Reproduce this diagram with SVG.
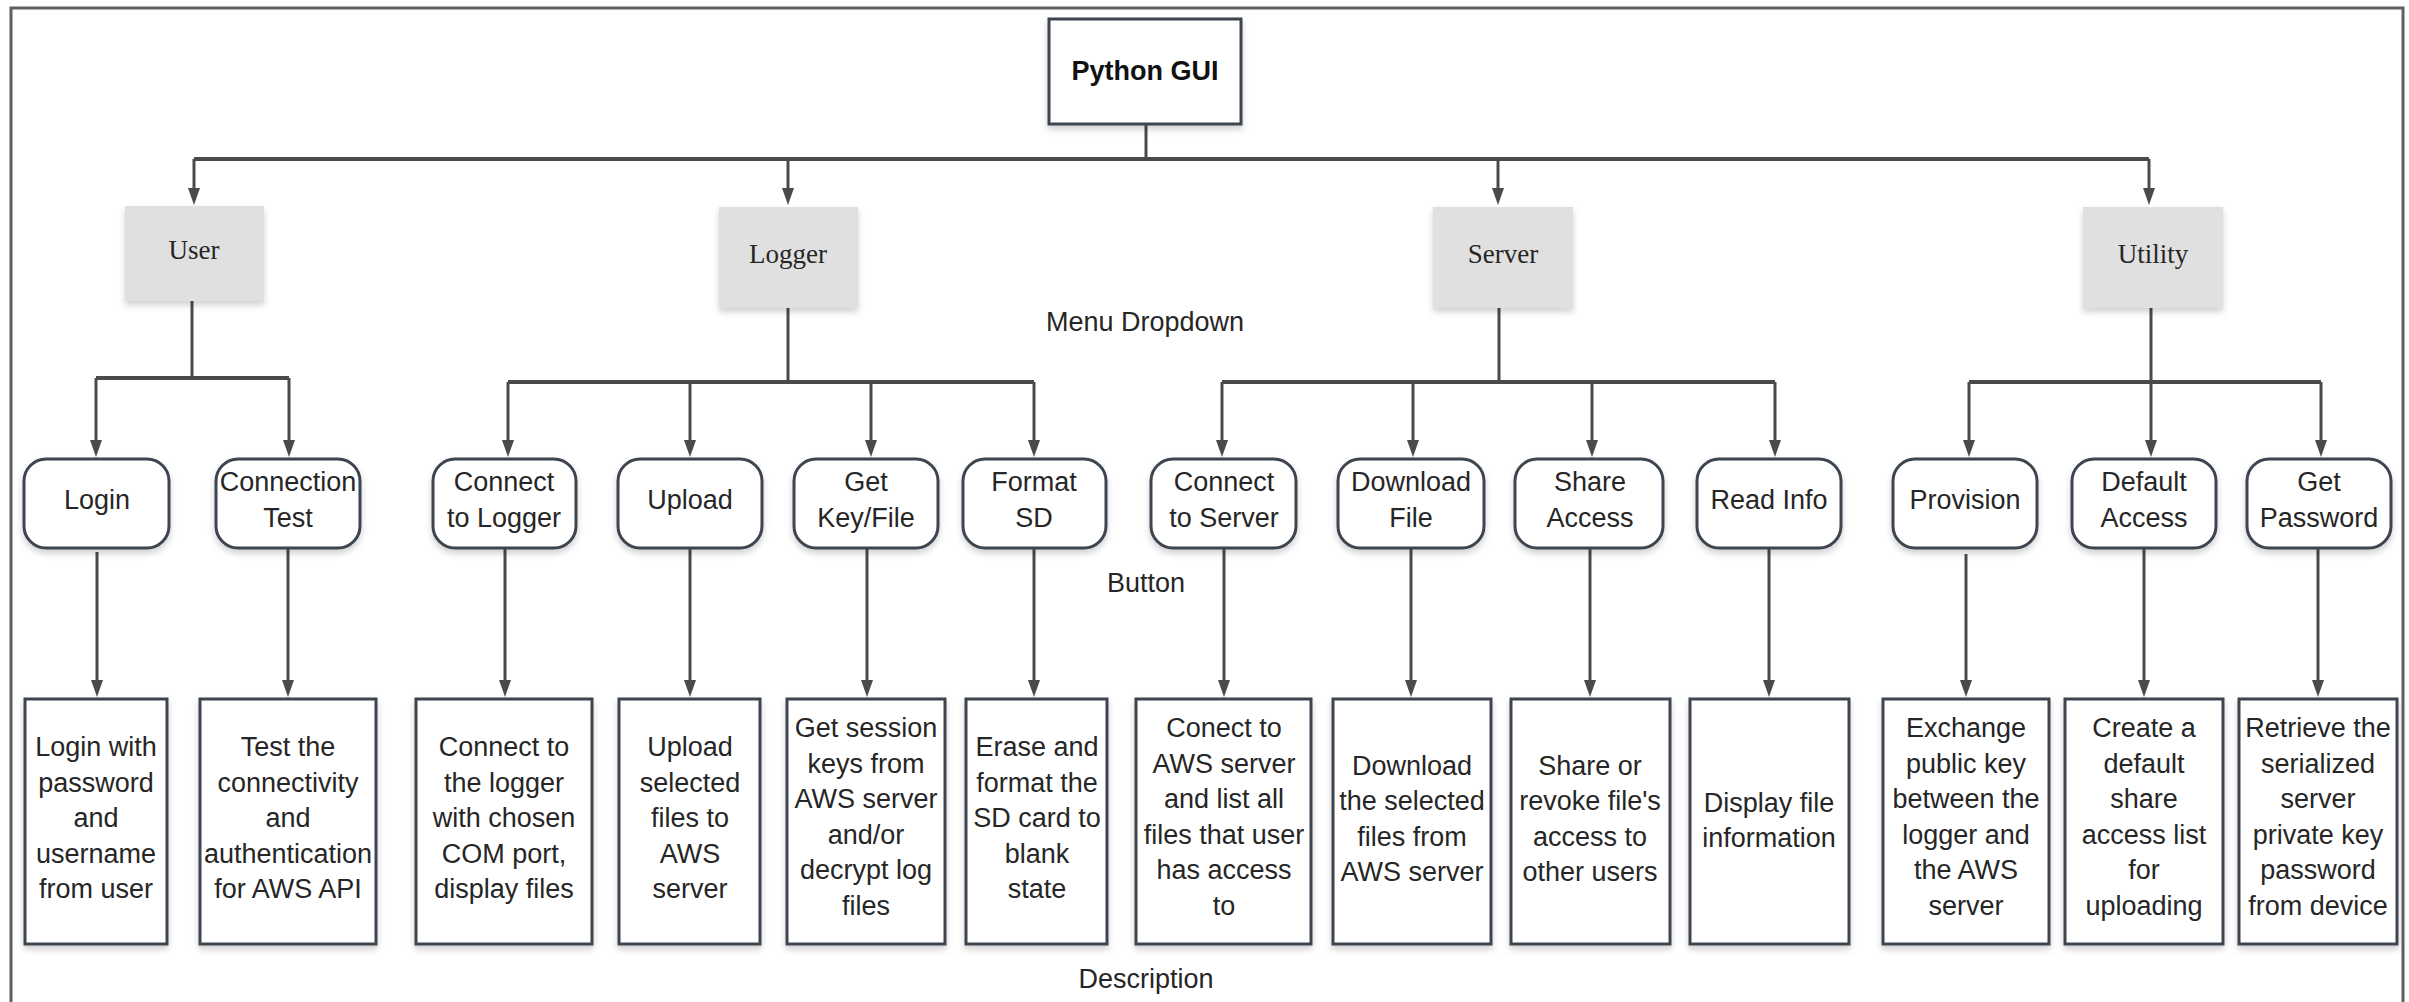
<svg xmlns="http://www.w3.org/2000/svg" width="2409" height="1002" viewBox="0 0 2409 1002">
  <style>
    .frame { fill: none; stroke: #5f5f5f; stroke-width: 3; }
    .box { fill: #ffffff; stroke: #3c4450; stroke-width: 3; filter: url(#shadow); }
    .menu { fill: #e0e0e0; stroke: none; filter: url(#shadow); }
    .btn { fill: #ffffff; stroke: #3c4450; stroke-width: 3; filter: url(#shadow); }
    .wire { fill: none; stroke: #4a4a4a; stroke-width: 3; }
    .bus { fill: none; stroke: #4a4a4a; stroke-width: 4; }
    .arrow { fill: none; stroke: #4a4a4a; stroke-width: 3; marker-end: url(#head); }
    .t { font-family: "Liberation Sans", Arial, sans-serif; font-size: 27px; fill: #262626; text-anchor: middle; }
    .tb { font-family: "Liberation Sans", Arial, sans-serif; font-size: 27px; font-weight: bold; fill: #111111; text-anchor: middle; }
    .ts { font-family: "Liberation Serif", "Times New Roman", serif; font-size: 27px; fill: #262626; text-anchor: middle; }
  </style>
  <defs>
    <filter id="shadow" x="-20%" y="-20%" width="140%" height="150%">
      <feDropShadow dx="0" dy="4" stdDeviation="3" flood-color="#000000" flood-opacity="0.18"/>
    </filter>
    <marker id="head" markerUnits="userSpaceOnUse" viewBox="0 0 17 12" markerWidth="17" markerHeight="12" refX="3" refY="6" orient="auto">
      <path d="M0,0 L17,6 L0,12 z" fill="#4a4a4a"/>
    </marker>
  </defs>

  <rect width="2409" height="1002" fill="#ffffff"/>
  <!-- outer frame, open at the bottom -->
  <path class="frame" d="M11,1002 V8 H2403 V1002"/>

  <!-- connectors -->
  <g id="connectors">
    <path class="wire" d="M1146,124 V159"/>
    <path class="bus" d="M194,159 H2149"/>
    <path class="arrow" d="M194,159 V191"/>
    <path class="arrow" d="M788,159 V191"/>
    <path class="arrow" d="M1498,159 V191"/>
    <path class="arrow" d="M2149,159 V191"/>

    <!-- User branch -->
    <path class="wire" d="M192,301 V378"/>
    <path class="bus" d="M96,378 H289"/>
    <path class="arrow" d="M96,378 V443"/>
    <path class="arrow" d="M289,378 V443"/>

    <!-- Logger branch -->
    <path class="wire" d="M788,308 V382"/>
    <path class="bus" d="M508,382 H1034"/>
    <path class="arrow" d="M508,382 V443"/>
    <path class="arrow" d="M690,382 V443"/>
    <path class="arrow" d="M871,382 V443"/>
    <path class="arrow" d="M1034,382 V443"/>

    <!-- Server branch -->
    <path class="wire" d="M1499,308 V382"/>
    <path class="bus" d="M1222,382 H1775"/>
    <path class="arrow" d="M1222,382 V443"/>
    <path class="arrow" d="M1413,382 V443"/>
    <path class="arrow" d="M1592,382 V443"/>
    <path class="arrow" d="M1775,382 V443"/>

    <!-- Utility branch -->
    <path class="wire" d="M2151,308 V382"/>
    <path class="bus" d="M1969,382 H2321"/>
    <path class="arrow" d="M1969,382 V443"/>
    <path class="arrow" d="M2151,382 V443"/>
    <path class="arrow" d="M2321,382 V443"/>

    <!-- button to description -->
    <path class="arrow" d="M97,552 V683"/>
    <path class="arrow" d="M288,548 V683"/>
    <path class="arrow" d="M505,548 V683"/>
    <path class="arrow" d="M690,548 V683"/>
    <path class="arrow" d="M867,548 V683"/>
    <path class="arrow" d="M1034,548 V683"/>
    <path class="arrow" d="M1224,548 V683"/>
    <path class="arrow" d="M1411,548 V683"/>
    <path class="arrow" d="M1590,548 V683"/>
    <path class="arrow" d="M1769,548 V683"/>
    <path class="arrow" d="M1966,554 V683"/>
    <path class="arrow" d="M2144,548 V683"/>
    <path class="arrow" d="M2318,548 V683"/>
  </g>

  <!-- root -->
  <g id="python-gui">
    <rect class="box" x="1049" y="19" width="192" height="105"/>
    <text class="tb" x="1145" y="80">Python GUI</text>
  </g>

  <!-- menu dropdown entries -->
  <g id="menu-user">
    <rect class="menu" x="125" y="206" width="139" height="95"/>
    <text class="ts" x="194" y="259">User</text>
  </g>
  <g id="menu-logger">
    <rect class="menu" x="719" y="207" width="139" height="101"/>
    <text class="ts" x="788" y="263">Logger</text>
  </g>
  <g id="menu-server">
    <rect class="menu" x="1433" y="207" width="140" height="101"/>
    <text class="ts" x="1503" y="263">Server</text>
  </g>
  <g id="menu-utility">
    <rect class="menu" x="2083" y="207" width="140" height="101"/>
    <text class="ts" x="2153" y="263">Utility</text>
  </g>

  <!-- buttons -->
  <g id="btn-login">
    <rect class="btn" x="24" y="459" width="145" height="89" rx="22"/>
    <text class="t" x="97" y="509">Login</text>
  </g>
  <g id="btn-connection-test">
    <rect class="btn" x="216" y="459" width="144" height="89" rx="22"/>
    <text class="t" x="288" y="491">Connection<tspan x="288" dy="36">Test</tspan></text>
  </g>
  <g id="btn-connect-logger">
    <rect class="btn" x="433" y="459" width="143" height="89" rx="22"/>
    <text class="t" x="504" y="491">Connect<tspan x="504" dy="36">to Logger</tspan></text>
  </g>
  <g id="btn-upload">
    <rect class="btn" x="618" y="459" width="144" height="89" rx="22"/>
    <text class="t" x="690" y="509">Upload</text>
  </g>
  <g id="btn-get-key">
    <rect class="btn" x="794" y="459" width="144" height="89" rx="22"/>
    <text class="t" x="866" y="491">Get<tspan x="866" dy="36">Key/File</tspan></text>
  </g>
  <g id="btn-format-sd">
    <rect class="btn" x="963" y="459" width="143" height="89" rx="22"/>
    <text class="t" x="1034" y="491">Format<tspan x="1034" dy="36">SD</tspan></text>
  </g>
  <g id="btn-connect-server">
    <rect class="btn" x="1151" y="459" width="145" height="89" rx="22"/>
    <text class="t" x="1224" y="491">Connect<tspan x="1224" dy="36">to Server</tspan></text>
  </g>
  <g id="btn-download">
    <rect class="btn" x="1338" y="459" width="146" height="89" rx="22"/>
    <text class="t" x="1411" y="491">Download<tspan x="1411" dy="36">File</tspan></text>
  </g>
  <g id="btn-share">
    <rect class="btn" x="1515" y="459" width="148" height="89" rx="22"/>
    <text class="t" x="1590" y="491">Share<tspan x="1590" dy="36">Access</tspan></text>
  </g>
  <g id="btn-read-info">
    <rect class="btn" x="1697" y="459" width="144" height="89" rx="22"/>
    <text class="t" x="1769" y="509">Read Info</text>
  </g>
  <g id="btn-provision">
    <rect class="btn" x="1893" y="459" width="144" height="89" rx="22"/>
    <text class="t" x="1965" y="509">Provision</text>
  </g>
  <g id="btn-default-access">
    <rect class="btn" x="2072" y="459" width="144" height="89" rx="22"/>
    <text class="t" x="2144" y="491">Default<tspan x="2144" dy="36">Access</tspan></text>
  </g>
  <g id="btn-get-password">
    <rect class="btn" x="2247" y="459" width="144" height="89" rx="22"/>
    <text class="t" x="2319" y="491">Get<tspan x="2319" dy="36">Password</tspan></text>
  </g>

  <!-- descriptions -->
  <g id="desc-login">
    <rect class="box" x="25" y="699" width="142" height="245"/>
    <text class="t" x="96" y="756">Login with<tspan x="96" dy="35.6">password</tspan><tspan x="96" dy="35.6">and</tspan><tspan x="96" dy="35.6">username</tspan><tspan x="96" dy="35.6">from user</tspan></text>
  </g>
  <g id="desc-connection-test">
    <rect class="box" x="200" y="699" width="176" height="245"/>
    <text class="t" x="288" y="756">Test the<tspan x="288" dy="35.6">connectivity</tspan><tspan x="288" dy="35.6">and</tspan><tspan x="288" dy="35.6">authentication</tspan><tspan x="288" dy="35.6">for AWS API</tspan></text>
  </g>
  <g id="desc-connect-logger">
    <rect class="box" x="416" y="699" width="176" height="245"/>
    <text class="t" x="504" y="756">Connect to<tspan x="504" dy="35.6">the logger</tspan><tspan x="504" dy="35.6">with chosen</tspan><tspan x="504" dy="35.6">COM port,</tspan><tspan x="504" dy="35.6">display files</tspan></text>
  </g>
  <g id="desc-upload">
    <rect class="box" x="619" y="699" width="141" height="245"/>
    <text class="t" x="690" y="756">Upload<tspan x="690" dy="35.6">selected</tspan><tspan x="690" dy="35.6">files to</tspan><tspan x="690" dy="35.6">AWS</tspan><tspan x="690" dy="35.6">server</tspan></text>
  </g>
  <g id="desc-get-key">
    <rect class="box" x="787" y="699" width="158" height="245"/>
    <text class="t" x="866" y="737">Get session<tspan x="866" dy="35.6">keys from</tspan><tspan x="866" dy="35.6">AWS server</tspan><tspan x="866" dy="35.6">and/or</tspan><tspan x="866" dy="35.6">decrypt log</tspan><tspan x="866" dy="35.6">files</tspan></text>
  </g>
  <g id="desc-format-sd">
    <rect class="box" x="966" y="699" width="141" height="245"/>
    <text class="t" x="1037" y="756">Erase and<tspan x="1037" dy="35.6">format the</tspan><tspan x="1037" dy="35.6">SD card to</tspan><tspan x="1037" dy="35.6">blank</tspan><tspan x="1037" dy="35.6">state</tspan></text>
  </g>
  <g id="desc-connect-server">
    <rect class="box" x="1136" y="699" width="175" height="245"/>
    <text class="t" x="1224" y="737">Conect to<tspan x="1224" dy="35.6">AWS server</tspan><tspan x="1224" dy="35.6">and list all</tspan><tspan x="1224" dy="35.6">files that user</tspan><tspan x="1224" dy="35.6">has access</tspan><tspan x="1224" dy="35.6">to</tspan></text>
  </g>
  <g id="desc-download">
    <rect class="box" x="1333" y="699" width="158" height="245"/>
    <text class="t" x="1412" y="774.5">Download<tspan x="1412" dy="35.6">the selected</tspan><tspan x="1412" dy="35.6">files from</tspan><tspan x="1412" dy="35.6">AWS server</tspan></text>
  </g>
  <g id="desc-share">
    <rect class="box" x="1511" y="699" width="159" height="245"/>
    <text class="t" x="1590" y="774.5">Share or<tspan x="1590" dy="35.6">revoke file's</tspan><tspan x="1590" dy="35.6">access to</tspan><tspan x="1590" dy="35.6">other users</tspan></text>
  </g>
  <g id="desc-read-info">
    <rect class="box" x="1690" y="699" width="159" height="245"/>
    <text class="t" x="1769" y="811.5">Display file<tspan x="1769" dy="35.6">information</tspan></text>
  </g>
  <g id="desc-provision">
    <rect class="box" x="1883" y="699" width="166" height="245"/>
    <text class="t" x="1966" y="737">Exchange<tspan x="1966" dy="35.6">public key</tspan><tspan x="1966" dy="35.6">between the</tspan><tspan x="1966" dy="35.6">logger and</tspan><tspan x="1966" dy="35.6">the AWS</tspan><tspan x="1966" dy="35.6">server</tspan></text>
  </g>
  <g id="desc-default-access">
    <rect class="box" x="2065" y="699" width="158" height="245"/>
    <text class="t" x="2144" y="737">Create a<tspan x="2144" dy="35.6">default</tspan><tspan x="2144" dy="35.6">share</tspan><tspan x="2144" dy="35.6">access list</tspan><tspan x="2144" dy="35.6">for</tspan><tspan x="2144" dy="35.6">uploading</tspan></text>
  </g>
  <g id="desc-get-password">
    <rect class="box" x="2239" y="699" width="158" height="245"/>
    <text class="t" x="2318" y="737">Retrieve the<tspan x="2318" dy="35.6">serialized</tspan><tspan x="2318" dy="35.6">server</tspan><tspan x="2318" dy="35.6">private key</tspan><tspan x="2318" dy="35.6">password</tspan><tspan x="2318" dy="35.6">from device</tspan></text>
  </g>

  <!-- tier labels -->
  <g id="labels">
    <text class="t" x="1145" y="331">Menu Dropdown</text>
    <text class="t" x="1146" y="592">Button</text>
    <text class="t" x="1146" y="988">Description</text>
  </g>
</svg>
